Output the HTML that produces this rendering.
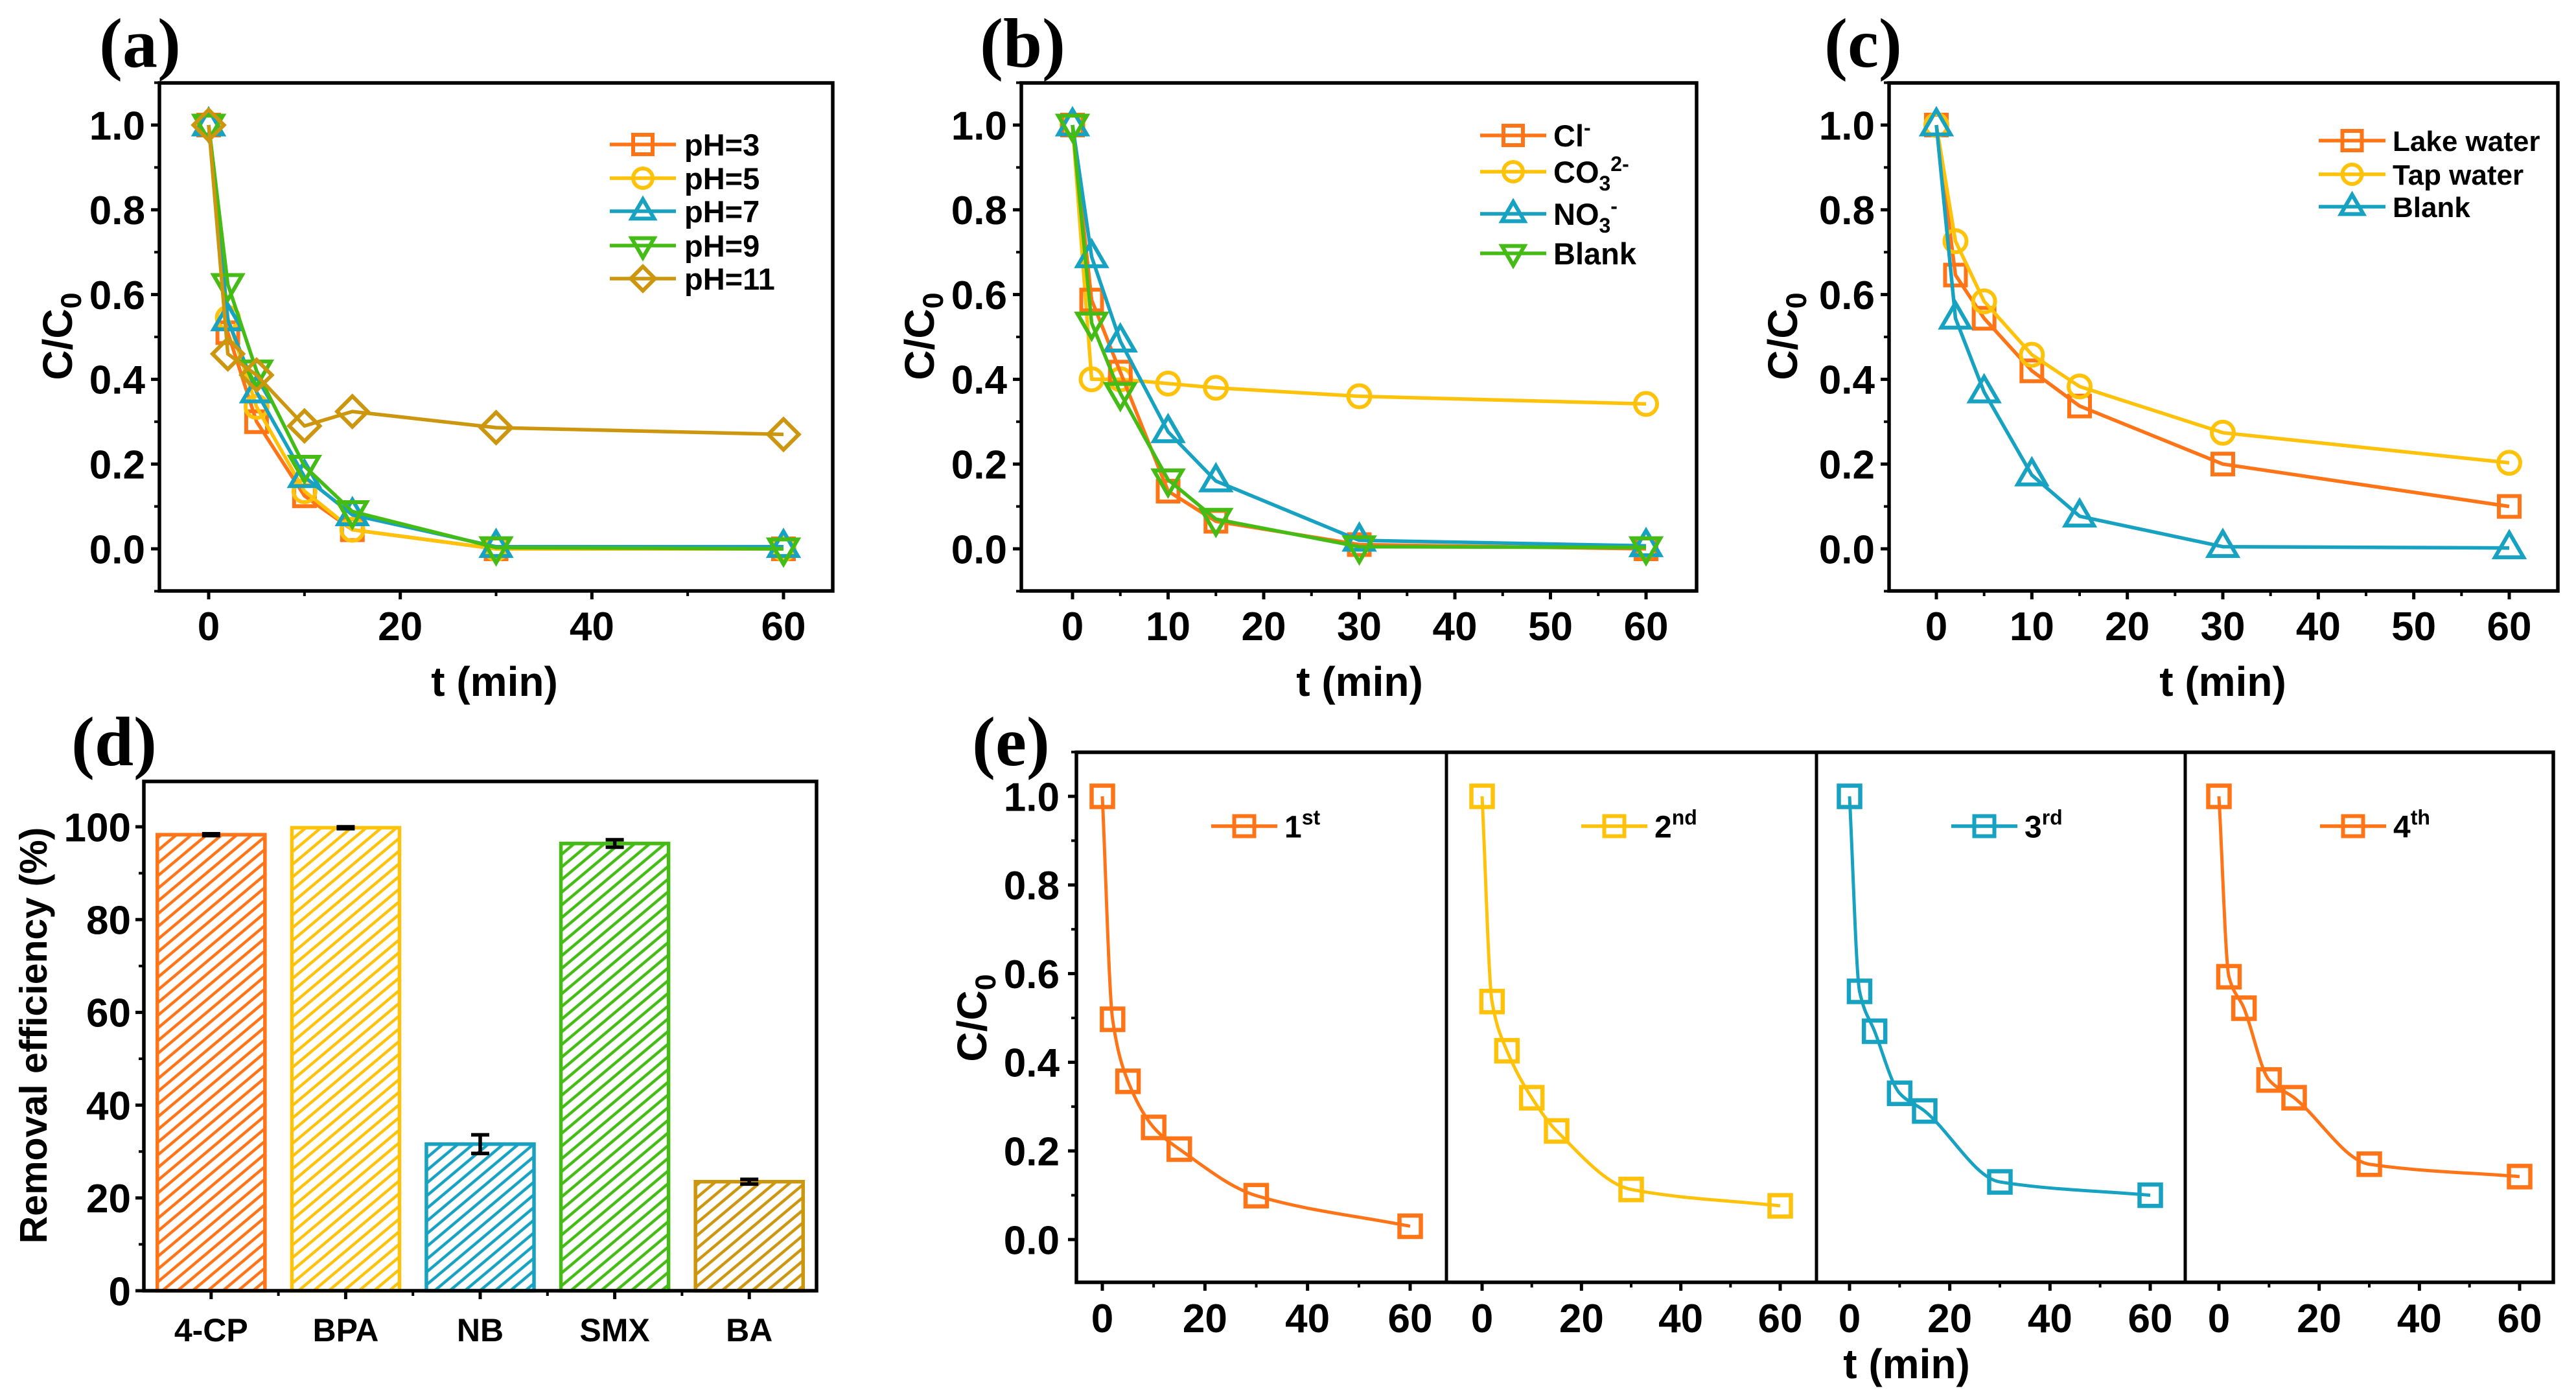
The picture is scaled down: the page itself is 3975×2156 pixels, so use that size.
<!DOCTYPE html>
<html><head><meta charset="utf-8"><style>
html,body{margin:0;padding:0;background:#fff;}
svg{display:block;font-family:"Liberation Sans",Arial,sans-serif;font-weight:bold;}
</style></head><body>
<svg id="fig" width="3975" height="2156" viewBox="0 0 3975 2156" xmlns="http://www.w3.org/2000/svg">
<defs>
<pattern id="h-or" width="40" height="15" patternUnits="userSpaceOnUse" patternTransform="rotate(-40)"><line x1="0" y1="7" x2="40" y2="7" stroke="#FF7417" stroke-width="4.5"/></pattern>
<pattern id="h-ye" width="40" height="15" patternUnits="userSpaceOnUse" patternTransform="rotate(-40)"><line x1="0" y1="7" x2="40" y2="7" stroke="#FFC20A" stroke-width="4.5"/></pattern>
<pattern id="h-te" width="40" height="15" patternUnits="userSpaceOnUse" patternTransform="rotate(-40)"><line x1="0" y1="7" x2="40" y2="7" stroke="#17A2C2" stroke-width="4.5"/></pattern>
<pattern id="h-gr" width="40" height="15" patternUnits="userSpaceOnUse" patternTransform="rotate(-40)"><line x1="0" y1="7" x2="40" y2="7" stroke="#45BC16" stroke-width="4.5"/></pattern>
<pattern id="h-br" width="40" height="15" patternUnits="userSpaceOnUse" patternTransform="rotate(-40)"><line x1="0" y1="7" x2="40" y2="7" stroke="#CC960E" stroke-width="4.5"/></pattern>
</defs>
</svg>
<script>
// ---------- data ----------
const times = [0, 2, 5, 10, 15, 30, 60];
const aLabels = ["pH=3", "pH=5", "pH=7", "pH=9", "pH=11"];
const aPH3 = [1, 0.51, 0.30, 0.125, 0.045, 0.0, 0.0];
const aPH5 = [1, 0.545, 0.335, 0.136, 0.045, 0.0, 0.0];
const aPH7 = [1, 0.54, 0.37, 0.17, 0.08, 0.005, 0.005];
const aPH9 = [1, 0.624, 0.42, 0.195, 0.088, 0.003, 0.0];
const aPH11 = [1, 0.46, 0.41, 0.29, 0.324, 0.286, 0.27];
const bCl = [1, 0.587, 0.417, 0.136, 0.065, 0.01, 0.0];
const bCO3 = [1, 0.40, 0.40, 0.39, 0.38, 0.36, 0.342];
const bNO3 = [1, 0.689, 0.49, 0.276, 0.16, 0.02, 0.007];
const bBlank = [1, 0.533, 0.367, 0.163, 0.07, 0.005, 0.003];
const cLake = [1, 0.646, 0.544, 0.42, 0.337, 0.20, 0.10];
const cTap = [1, 0.726, 0.584, 0.458, 0.383, 0.274, 0.203];
const cBlank = [1, 0.544, 0.37, 0.174, 0.077, 0.005, 0.002];
const dCategories = ["4-CP", "BPA", "NB", "SMX", "BA"];
const dValues = [98.3, 99.8, 31.6, 96.4, 23.5];
const dErrors = [0.2, 0.2, 2.0, 0.8, 0.5];
const e1st = [1, 0.497, 0.357, 0.253, 0.204, 0.099, 0.03];
const e2nd = [1, 0.537, 0.426, 0.32, 0.245, 0.113, 0.076];
const e3rd = [1, 0.56, 0.47, 0.33, 0.29, 0.13, 0.10];
const e4th = [1, 0.593, 0.522, 0.36, 0.32, 0.17, 0.142];
const yTicksC = [0, 0.2, 0.4, 0.6, 0.8, 1.0];
const yTicksD = [0, 20, 40, 60, 80, 100];

// ---------- helpers ----------
const NS = "http://www.w3.org/2000/svg";
const svg = document.getElementById("fig");
const OR = "#FF7417", YE = "#FFC20A", TE = "#17A2C2", GR = "#45BC16", BR = "#CC960E";
const TF = 62;
function el(tag, attrs, parent) {
  const e = document.createElementNS(NS, tag);
  for (const k in attrs) e.setAttribute(k, attrs[k]);
  (parent || svg).appendChild(e);
  return e;
}
function lin(d0, d1, p0, p1) { return v => p0 + (v - d0) * (p1 - p0) / (d1 - d0); }

function marker(g, type, x, y, color, s, sw) {
  let m;
  if (type === "square") m = el("rect", {x: x - s / 2, y: y - s / 2, width: s, height: s}, g);
  else if (type === "circle") m = el("circle", {cx: x, cy: y, r: s / 2}, g);
  else if (type === "up") m = el("polygon", {points: `${x},${y - s * 0.62} ${x - s * 0.58},${y + s * 0.38} ${x + s * 0.58},${y + s * 0.38}`}, g);
  else if (type === "down") m = el("polygon", {points: `${x},${y + s * 0.62} ${x - s * 0.58},${y - s * 0.38} ${x + s * 0.58},${y - s * 0.38}`}, g);
  else m = el("polygon", {points: `${x},${y - s * 0.62} ${x + s * 0.62},${y} ${x},${y + s * 0.62} ${x - s * 0.62},${y}`}, g);
  m.setAttribute("fill", "none");
  m.setAttribute("stroke", color);
  m.setAttribute("stroke-width", sw);
  
  
  return m;
}

function yAxisTitle(x, y, fs) {
  const t = el("text", {x: 0, y: 0, "font-size": fs, "text-anchor": "middle", transform: `translate(${x},${y}) rotate(-90)`});
  
  
  t.innerHTML = 'C/C<tspan font-size="' + (fs * 0.7) + '" dy="' + (fs * 0.22) + '">0</tspan>';
}
function textAt(x, y, s, fs, anchor, name, family) {
  const t = el("text", {x: x, y: y, "font-size": fs, "text-anchor": anchor || "start"});
  if (family) { t.setAttribute("font-family", family); }
  
  
  t.textContent = s;
  return t;
}
function frame(g, L, T, R, B) {
  const r = el("rect", {x: L, y: T, width: R - L, height: B - T, fill: "none", stroke: "#000", "stroke-width": 5.5}, g);
  
  
}
function yTicks(g, L, sy, ticks, minors, labelFmt, fs, gap) {
  ticks.forEach(v => {
    el("line", {x1: L, x2: L - 13, y1: sy(v), y2: sy(v), stroke: "#000", "stroke-width": 5}, g);
    g.appendChild(textAt(L - gap, sy(v) + fs * 0.36, labelFmt(v), fs, "end", "y-tick-label"));
  });
  minors.forEach(v => el("line", {x1: L, x2: L - 8, y1: sy(v), y2: sy(v), stroke: "#000", "stroke-width": 4}, g));
}
function xTicks(g, B, sx, ticks, minors, fs, ly) {
  ticks.forEach(v => {
    el("line", {x1: sx(v), x2: sx(v), y1: B, y2: B + 13, stroke: "#000", "stroke-width": 5}, g);
    g.appendChild(textAt(sx(v), ly, String(v), fs, "middle", "x-tick-label"));
  });
  minors.forEach(v => el("line", {x1: sx(v), x2: sx(v), y1: B, y2: B + 8, stroke: "#000", "stroke-width": 4}, g));
}
function series(g, sx, sy, xs, ys, color, type, ms, name) {
  const pts = xs.map((x, i) => sx(x) + "," + sy(ys[i])).join(" ");
  const p = el("polyline", {points: pts, fill: "none", stroke: color, "stroke-width": 5.5, "stroke-linejoin": "round"}, g);
  
  
  xs.forEach((x, i) => marker(g, type, sx(x), sy(ys[i]), color, ms, 6));
}
function legendEntry(g, x1, x2, xt, y, color, type, label, fs, ms) {
  const lg = el("g", {}, g);
  
  
  el("line", {x1: x1, x2: x2, y1: y, y2: y, stroke: color, "stroke-width": 5.5}, lg);
  marker(lg, type, (x1 + x2) / 2, y, color, ms, 6);
  const t = el("text", {x: xt, y: y + fs * 0.36, "font-size": fs}, lg);
  
  
  t.innerHTML = label;
}

function fmt1(v) { return v.toFixed(1); }
const minorC = [-0.1, 0.1, 0.3, 0.5, 0.7, 0.9, 1.1];

// ---------- Panel (a) ----------
(function () {
  const g = el("g", {});
  
  
  const L = 246, R = 1285, T = 128, B = 912;
  const sx = lin(0, 60, 322, 1209), sy = lin(0, 1, 847, 193);
  textAt(153, 103, "(a)", 108, "start", "panel-label", "Liberation Serif");
  frame(g, L, T, R, B);
  yTicks(g, L, sy, yTicksC, minorC, fmt1, TF, 22);
  xTicks(g, B, sx, [0, 20, 40, 60], [10, 30, 50], TF, 988);
  textAt(763, 1074, "t (min)", 64, "middle", "x-axis-title");
  yAxisTitle(89 + 22, 519, 64);
  series(g, sx, sy, times, aPH3, OR, "square", 32, "ph3");
  series(g, sx, sy, times, aPH5, YE, "circle", 34, "ph5");
  series(g, sx, sy, times, aPH7, TE, "up", 38, "ph7");
  series(g, sx, sy, times, aPH9, GR, "down", 38, "ph9");
  series(g, sx, sy, times, aPH11, BR, "diamond", 38, "ph11");
  const types = ["square", "circle", "up", "down", "diamond"], cols = [OR, YE, TE, GR, BR];
  const ys = [223, 275, 326, 379, 430];
  aLabels.forEach((lab, i) => legendEntry(g, 941, 1043, 1056, ys[i], cols[i], types[i], lab, 47, 30));
})();

// ---------- Panel (b) ----------
(function () {
  const g = el("g", {});
  
  
  const L = 1576, R = 2618, T = 128, B = 912;
  const sx = lin(0, 60, 1655, 2540), sy = lin(0, 1, 847, 193);
  textAt(1512, 103, "(b)", 108, "start", "panel-label", "Liberation Serif");
  frame(g, L, T, R, B);
  yTicks(g, L, sy, yTicksC, minorC, fmt1, TF, 22);
  xTicks(g, B, sx, [0, 10, 20, 30, 40, 50, 60], [5, 15, 25, 35, 45, 55], TF, 988);
  textAt(2098, 1074, "t (min)", 64, "middle", "x-axis-title");
  yAxisTitle(1419 + 22, 519, 64);
  series(g, sx, sy, times, bCO3, YE, "circle", 34, "co3");
  series(g, sx, sy, times, bCl, OR, "square", 32, "cl");
  series(g, sx, sy, times, bNO3, TE, "up", 38, "no3");
  series(g, sx, sy, times, bBlank, GR, "down", 38, "blank");
  const sub = (s) => '<tspan font-size="32" dy="12">' + s + '</tspan>';
  const sup = (s, d) => '<tspan font-size="32" dy="' + d + '">' + s + '</tspan>';
  legendEntry(g, 2284, 2386, 2397, 209, OR, "square", 'Cl' + sup('-', -18), 47, 30);
  legendEntry(g, 2284, 2386, 2397, 265, YE, "circle", 'CO' + sub('3') + sup('2-', -30), 47, 30);
  legendEntry(g, 2284, 2386, 2397, 330, TE, "up", 'NO' + sub('3') + sup('-', -30), 47, 30);
  legendEntry(g, 2284, 2386, 2397, 391, GR, "down", 'Blank', 47, 30);
})();

// ---------- Panel (c) ----------
(function () {
  const g = el("g", {});
  
  
  const L = 2915, R = 3947, T = 128, B = 912;
  const sx = lin(0, 60, 2988, 3872), sy = lin(0, 1, 847, 193);
  textAt(2815, 103, "(c)", 108, "start", "panel-label", "Liberation Serif");
  frame(g, L, T, R, B);
  yTicks(g, L, sy, yTicksC, minorC, fmt1, TF, 22);
  xTicks(g, B, sx, [0, 10, 20, 30, 40, 50, 60], [5, 15, 25, 35, 45, 55], TF, 988);
  textAt(3430, 1074, "t (min)", 64, "middle", "x-axis-title");
  yAxisTitle(2751 + 22, 519, 64);
  series(g, sx, sy, times, cLake, OR, "square", 32, "lake");
  series(g, sx, sy, times, cTap, YE, "circle", 34, "tap");
  series(g, sx, sy, times, cBlank, TE, "up", 38, "blank");
  legendEntry(g, 3578, 3681, 3692, 217, OR, "square", "Lake water", 44, 30);
  legendEntry(g, 3578, 3681, 3692, 269, YE, "circle", "Tap water", 44, 30);
  legendEntry(g, 3578, 3681, 3692, 319, TE, "up", "Blank", 44, 30);
})();

// ---------- Panel (d) ----------
(function () {
  const g = el("g", {});
  
  
  const L = 222, R = 1260, T = 1206, B = 1992;
  const sx = lin(0.5, 5.5, L, R), sy = lin(0, 100, 1992, 1276);
  textAt(110, 1181, "(d)", 108, "start", "panel-label", "Liberation Serif");
  const cols = [OR, YE, TE, GR, BR], pats = ["h-or", "h-ye", "h-te", "h-gr", "h-br"];
  const bw = 0.8 * (R - L) / 5;
  dCategories.forEach((c, i) => {
    const cx = sx(i + 1);
    const r = el("rect", {x: cx - bw / 2, y: sy(dValues[i]), width: bw, height: sy(0) - sy(dValues[i]), fill: "url(#" + pats[i] + ")", stroke: cols[i], "stroke-width": 5.5}, g);
    
    
    const top = sy(dValues[i] + dErrors[i]), bot = sy(dValues[i] - dErrors[i]);
    const eb = el("g", {stroke: "#000", "stroke-width": 5.5}, g);
    
    
    el("line", {x1: cx, x2: cx, y1: top, y2: bot}, eb);
    el("line", {x1: cx - 14, x2: cx + 14, y1: top, y2: top}, eb);
    el("line", {x1: cx - 14, x2: cx + 14, y1: bot, y2: bot}, eb);
  });
  frame(g, L, T, R, B);
  yTicks(g, L, sy, yTicksD, [10, 30, 50, 70, 90], v => String(v), TF, 20);
  dCategories.forEach((c, i) => {
    el("line", {x1: sx(i + 1), x2: sx(i + 1), y1: B, y2: B + 13, stroke: "#000", "stroke-width": 5}, g);
    g.appendChild(textAt(sx(i + 1), 2070, c, 50, "middle", "x-tick-label"));
  });
  [1.5, 2.5, 3.5, 4.5].forEach(v => el("line", {x1: sx(v), x2: sx(v), y1: B, y2: B + 8, stroke: "#000", "stroke-width": 4}, g));
  const t = el("text", {x: 0, y: 0, "font-size": 59, "text-anchor": "middle", transform: "translate(72,1598) rotate(-90)"});
  
  
  t.textContent = "Removal efficiency (%)";
})();

// ---------- Panel (e) ----------
function monotonePath(sx, sy, xs, ys) {
  const n = xs.length, d = [], m = [];
  for (let i = 0; i < n - 1; i++) d.push((ys[i + 1] - ys[i]) / (xs[i + 1] - xs[i]));
  m[0] = d[0]; m[n - 1] = d[n - 2];
  for (let i = 1; i < n - 1; i++) m[i] = (d[i - 1] * d[i] <= 0) ? 0 : (2 / (1 / d[i - 1] + 1 / d[i]));
  let p = "M" + sx(xs[0]) + "," + sy(ys[0]);
  for (let i = 0; i < n - 1; i++) {
    const h = xs[i + 1] - xs[i];
    const x1 = xs[i] + h / 3, y1 = ys[i] + m[i] * h / 3;
    const x2 = xs[i + 1] - h / 3, y2 = ys[i + 1] - m[i + 1] * h / 3;
    p += " C" + sx(x1) + "," + sy(y1) + " " + sx(x2) + "," + sy(y2) + " " + sx(xs[i + 1]) + "," + sy(ys[i + 1]);
  }
  return p;
}
(function () {
  const g = el("g", {});
  
  
  const T = 1161, B = 1979;
  const sy = lin(0, 1, 1913, 1229);
  textAt(1500, 1181, "(e)", 108, "start", "panel-label", "Liberation Serif");
  const subs = [
    {L: 1661, R: 2232, x0: 1701, x60: 2176, data: e1st, col: OR, lab: "1", sup: "st"},
    {L: 2232, R: 2803, x0: 2287, x60: 2747, data: e2nd, col: YE, lab: "2", sup: "nd"},
    {L: 2803, R: 3372, x0: 2854, x60: 3318, data: e3rd, col: TE, lab: "3", sup: "rd"},
    {L: 3372, R: 3940, x0: 3424, x60: 3888, data: e4th, col: OR, lab: "4", sup: "th"}
  ];
  subs.forEach((s, k) => {
    const sg = el("g", {}, g);
    
    
    const sx = lin(0, 60, s.x0, s.x60);
    const fit = el("path", {d: monotonePath(sx, sy, times, s.data), fill: "none", stroke: s.col, "stroke-width": 5}, sg);
    
    
    times.forEach((t, i) => marker(sg, "square", sx(t), sy(s.data[i]), s.col, 33, 6.5));
    xTicks(sg, B, sx, [0, 20, 40, 60], [10, 30, 50], TF, 2056);
    const lx = s.L + 208;
    legendEntry(sg, lx, lx + 102, lx + 113, 1275, s.col, "square", s.lab + '<tspan font-size="32" dy="-20">' + s.sup + '</tspan>', 48, 31);
  });
  [2232, 2803, 3372].forEach(x => {
    const l = el("line", {x1: x, x2: x, y1: T, y2: B, stroke: "#000", "stroke-width": 5}, g);
    
    
  });
  frame(g, 1661, T, 3940, B);
  yTicks(g, 1661, sy, yTicksC, minorC.filter(v => v > -0.1), fmt1, TF, 26);
  textAt(2942, 2127, "t (min)", 64, "middle", "x-axis-title");
  yAxisTitle(1500 + 22, 1571, 64);
})();
</script>
</body></html>
